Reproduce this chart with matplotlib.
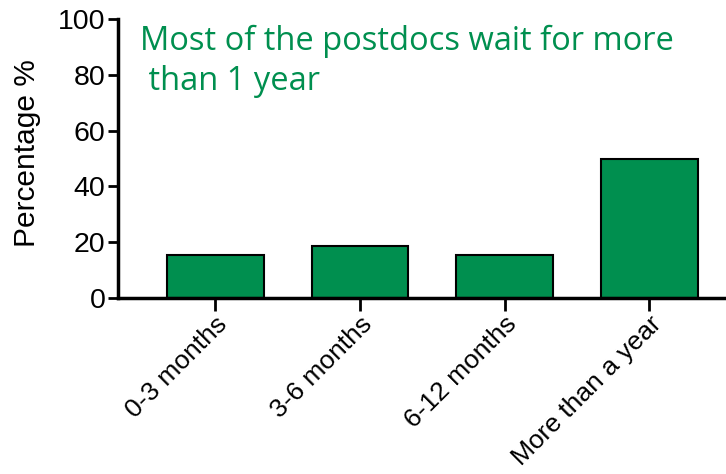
import matplotlib
matplotlib.use("Agg")
import matplotlib.pyplot as plt

categories = ["0-3 months", "3-6 months", "6-12 months", "More than a year"]
values = [15.4, 18.5, 15.4, 50.0]
yticks = [0, 20, 40, 60, 80, 100]
title_text = "Most of the postdocs wait for more\n than 1 year"

green = "#008F4F"

fig = plt.figure(figsize=(7.26, 4.74), dpi=100)
ax = fig.add_axes([118/726, 1-298/474, 1-118/726, (298-19)/474])

x = list(range(len(categories)))
ax.bar(x, values, width=0.667, color=green, edgecolor="black", linewidth=1.5)

ax.set_xlim(-0.674, 3.53)
ax.set_ylim(0, 100)
ax.set_yticks(yticks)
ax.set_yticklabels([str(t) for t in yticks], fontsize=20.5, family="Liberation Sans")
ax.set_xticks(x)
ax.set_xticklabels(categories, rotation=45, ha="right", rotation_mode="anchor",
                   fontsize=19, family="Liberation Sans")
ax.set_ylabel("Percentage %", fontsize=21.5, family="Liberation Sans")
ax.yaxis.set_label_coords(-0.127, 0.52)

for s in ["top", "right"]:
    ax.spines[s].set_visible(False)
for s in ["left", "bottom"]:
    ax.spines[s].set_linewidth(2.5)
ax.tick_params(axis="y", length=7, width=2, pad=2)
ax.tick_params(axis="x", length=9, width=2, pad=1)

ax.text(0.036, 0.98, title_text, transform=ax.transAxes, color=green,
        fontsize=23.5, family="Open Sans", va="top", ha="left", linespacing=1.28)

fig.savefig("out.png", dpi=100)
